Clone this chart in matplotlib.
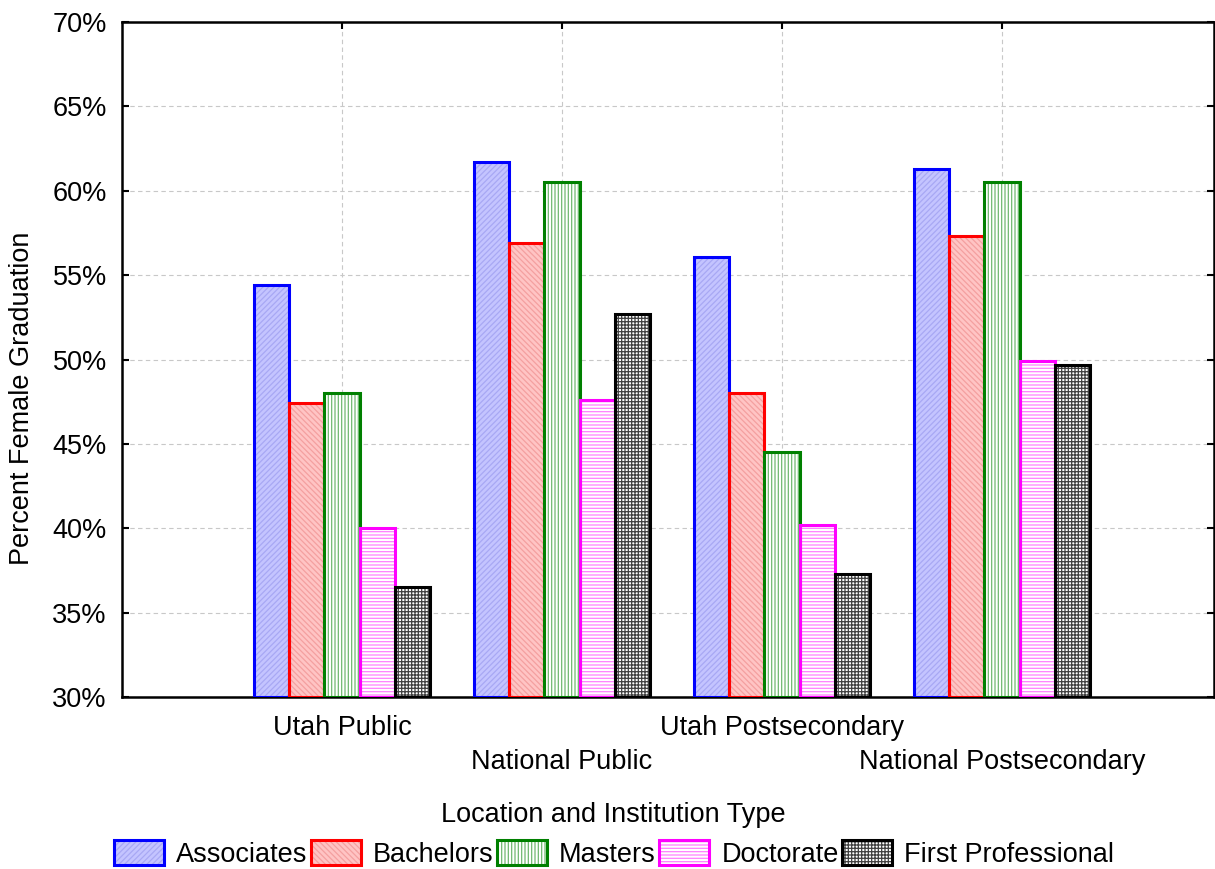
import matplotlib
matplotlib.use("Agg")
import matplotlib.pyplot as plt
import numpy as np
from matplotlib.patches import Patch
from matplotlib.legend_handler import HandlerTuple

categories = ["Utah Public", "National Public", "Utah Postsecondary", "National Postsecondary"]
series_names = ["Associates", "Bachelors", "Masters", "Doctorate", "First Professional"]
associates = [54.4, 61.7, 56.1, 61.3]
bachelors = [47.4, 56.9, 48.0, 57.3]
masters = [48.0, 60.5, 44.5, 60.5]
doctorate = [40.0, 47.6, 40.2, 49.9]
first_professional = [36.5, 52.7, 37.3, 49.7]
yticks = [30, 35, 40, 45, 50, 55, 60, 65, 70]
ytick_labels = ["30%", "35%", "40%", "45%", "50%", "55%", "60%", "65%", "70%"]

series = [associates, bachelors, masters, doctorate, first_professional]
# (outline color, face color, hatch color, hatch)
styles = [
    ("#0000ff", "#c4c4ff", "#a8a8f4", "//////"),
    ("#ff0000", "#ffc4c4", "#f4a0a0", "\\\\\\\\\\\\"),
    ("#008000", "#ffffff", "#70b870", "|||||"),
    ("#ff00ff", "#ffffff", "#ff80ff", "-----"),
    ("#000000", "#ffffff", "#404040", "+++++"),
]

plt.rcParams['font.family'] = ['Liberation Sans', 'DejaVu Sans']
plt.rcParams['hatch.linewidth'] = 0.9
FS = 19.5

W, H = 1215, 869
fig = plt.figure(figsize=(W / 100, H / 100), dpi=100)
ax = fig.add_axes([122 / W, (H - 697) / H, (1214 - 122) / W, 675 / H])

x = np.arange(len(categories))
bw = 0.16
offsets = (np.arange(len(series)) - 2) * bw
bottom = 30
handles = []
for vals, off, (oc, fc, hc, hatch) in zip(series, offsets, styles):
    heights = np.array(vals) - bottom
    ax.bar(x + off, heights, bw, bottom=bottom, color=fc, edgecolor=hc,
           linewidth=0, hatch=hatch, zorder=2)
    ax.bar(x + off, heights, bw, bottom=bottom, fill=False, edgecolor=oc,
           linewidth=2.2, zorder=3)
    handles.append((Patch(facecolor=fc, edgecolor=hc, hatch=hatch, linewidth=0),
                    Patch(fill=False, edgecolor=oc, linewidth=2.2)))

ax.set_xlim(-1, (1214 - 342) / 220)
ax.set_ylim(30, 70)
ax.set_yticks(yticks)
ax.set_yticklabels(ytick_labels, fontsize=FS)
# staggered category labels: even ones as major ticks, odd ones as minor ticks
ax.set_xticks(x[0::2])
ax.set_xticklabels(categories[0::2], fontsize=FS)
ax.set_xticks(x[1::2], minor=True)
ax.set_xticklabels(categories[1::2], minor=True, fontsize=FS)
ax.tick_params(axis='both', which='both', direction='in', length=5, width=1.5,
               top=True, right=True)
ax.tick_params(axis='y', pad=11)
ax.tick_params(axis='x', which='major', pad=13)
ax.tick_params(axis='x', which='minor', pad=13 + 34 * 0.72)
for s in ax.spines.values():
    s.set_linewidth(1.8)
ax.grid(True, which='both', axis='x', color='#c8c8c8', linestyle=(0, (4, 3)), linewidth=0.8, zorder=0)
ax.grid(True, which='major', axis='y', color='#c8c8c8', linestyle=(0, (4, 3)), linewidth=0.8, zorder=0)
ax.set_axisbelow(True)

fig.text(22 / W, 1 - 398 / H, "Percent Female Graduation", rotation=90,
         ha='center', va='center', fontsize=FS)
fig.text(613 / W, 1 - 815 / H, "Location and Institution Type",
         ha='center', va='center', fontsize=FS)

fig.legend(handles, series_names, handler_map={tuple: HandlerTuple(ndivide=1, pad=0)},
           loc='center', bbox_to_anchor=(614 / W, 1 - 854 / H), ncol=5,
           frameon=False, fontsize=FS, handlelength=1.85, handleheight=1.05,
           handletextpad=0.45, columnspacing=0.12, borderpad=0, borderaxespad=0)

fig.savefig("out.png", dpi=100)
